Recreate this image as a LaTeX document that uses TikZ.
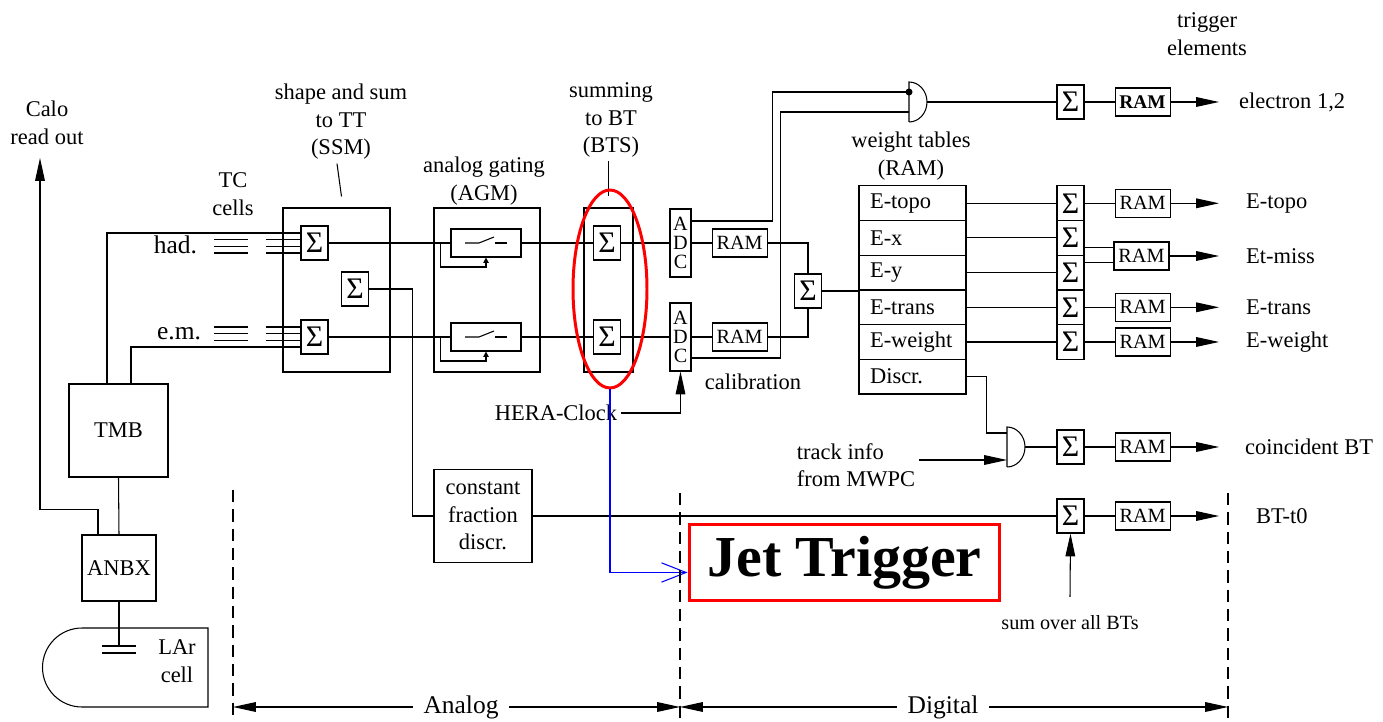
\documentclass[tikz,border=0pt]{standalone}
\usepackage{fontspec}
\setmainfont{Liberation Serif}
\usetikzlibrary{positioning,calc,arrows.meta,shapes.geometric}

\tikzset{
  lbl/.style={font=\fontsize{12.8}{15.6}\selectfont, align=center, inner sep=2pt},
  blk/.style={rectangle, draw, inner sep=0pt, align=center, font=\fontsize{12.8}{15.6}\selectfont},
  sumbox/.style={blk, minimum width=0.54cm, minimum height=0.68cm, font=\fontsize{17}{17}\selectfont},
  rambox/.style={blk, minimum width=1.1cm, minimum height=0.56cm, font=\fontsize{11.5}{12}\selectfont},
  adcbox/.style={blk, minimum width=0.42cm, minimum height=1.36cm, font=\fontsize{11.5}{11}\selectfont},
  swbox/.style={blk, minimum width=1.4cm, minimum height=0.56cm},
  wrow/.style={blk, text width=1.7cm, inner xsep=0.22cm, minimum height=0.6933cm, align=left},
  arr/.style={-{Triangle[length=13pt,width=5.5pt]}},
  fbarr/.style={-{Triangle[length=3pt,width=3pt]}},
  divider/.style={dash pattern=on 7pt off 4pt},
  bigfont/.style={font=\fontsize{14.5}{15}\selectfont}
}

\begin{document}
\begin{tikzpicture}[x=0.02cm, y=-0.02cm, line width=0.6pt]
  \useasboundingbox (0,0) rectangle (1383,722);

  % calorimeter side
  \node[lbl] (calo) at (47,123) {Calo\\read out};
  \node[blk, minimum width=1.98cm, minimum height=1.86cm] (tmb) at (118.5,430.5) {TMB};
  \node[blk, minimum width=1.48cm, minimum height=1.32cm] (anbx) at (119,568) {ANBX};
  \node[lbl] (lar) at (177,661) {LAr\\cell};
  \coordinate (cap) at (119,646);
  \coordinate (calotip) at (40,158);

  \draw (82,628) -- (208,628) -- (208,707) -- (82,707) arc[start angle=270, end angle=90, radius=0.79cm];
  \draw (102,646) -- (136,646) (102,653) -- (136,653);
  \draw (tmb.south) -- (anbx.north);
  \draw (anbx.south) -- (cap);
  \draw[arr] ([xshift=-0.42cm]anbx.north) -- ++(0,-25) -| (calotip);

  % trigger cells
  \node[lbl] (tc) at (233,194) {TC\\cells};
  \node[lbl, bigfont, anchor=east] (had) at (201,245) {had.};
  \node[lbl, bigfont, anchor=east] (em) at (205,334) {e.m.};

  % SSM
  \node[blk, minimum width=2.14cm, minimum height=3.28cm] (ssm) at (336.5,290) {};
  \node[lbl] (ssmlbl) at (341,122) {shape and sum\\to TT\\(SSM)};
  \node[sumbox] (shad) at (314.5,243) {Σ};
  \node[sumbox] (smid) at (355,289) {Σ};
  \node[sumbox] (sem) at (314.5,337) {Σ};
  \draw ([xshift=-0.08cm]ssmlbl.south) -- ([xshift=0.1cm,yshift=0.22cm]ssm.north);

  \draw ([xshift=-0.23cm]tmb.north) |- ([yshift=0.2cm]shad.west);
  \draw ([xshift=0.25cm]tmb.north) |- ([yshift=-0.2cm]sem.west);
  \foreach \dy in {-3.3,3.3,10}
    \draw ($(shad.west)+(-86,\dy)$) -- ++(34,0) ++(18,0) -- ++(34,0);
  \foreach \dy in {-10,-3.3,3.3}
    \draw ($(sem.west)+(-86,\dy)$) -- ++(34,0) ++(18,0) -- ++(34,0);

  % AGM
  \node[blk, minimum width=2.12cm, minimum height=3.28cm] (agm) at (487,290) {};
  \node[lbl] (agmlbl) at (484,181) {analog gating\\(AGM)};
  \node[swbox] (swhad) at (486,243) {};
  \node[swbox] (swem) at (486,337) {};
  \foreach \s in {swhad,swem} {
    \draw ($(\s.center)+(-21,0)$) -- ++(14,0) -- ++(15,-6);
    \draw ($(\s.center)+(9,0)$) -- ++(12,0);
    \draw[fbarr] ([xshift=-0.2cm]\s.west) -- ++(0,24) -| (\s.south);
  }

  % BTS
  \node[blk, minimum width=0.98cm, minimum height=3.28cm] (bts) at (608.5,290) {};
  \node[lbl] (btslbl) at (611,120) {summing\\to BT\\(BTS)};
  \node[sumbox] (bhad) at (607,243) {Σ};
  \node[sumbox] (bem) at (607,337) {Σ};
  \draw (btslbl.south -| bts.north) -- ([yshift=0.22cm]bts.north);

  % ADC and calibration
  \node[adcbox] (adchad) at (680.5,243) {A\\D\\C};
  \node[adcbox] (adcem) at (680.5,337) {A\\D\\C};
  \node[rambox, right=0.4cm of adchad] (ramhad) {RAM};
  \node[rambox, right=0.4cm of adcem] (ramem) {RAM};
  \node[sumbox] (ssum) at (808,291) {Σ};
  \node[lbl] (calib) at (753,382) {calibration};
  \node[lbl] (hera) at (556,413) {HERA-Clock};

  \draw (shad.east) -- (swhad.west);
  \draw (sem.east) -- (swem.west);
  \draw (swhad.east) -- (bhad.west);
  \draw (swem.east) -- (bem.west);
  \draw (bhad.east) -- (adchad.west);
  \draw (bem.east) -- (adcem.west);
  \draw (adchad.east) -- (ramhad.west);
  \draw (adcem.east) -- (ramem.west);
  \draw (ramhad.east) -| (ssum.north);
  \draw (ramem.east) -| (ssum.south);
  \draw[arr] (hera.east) -| (adcem.south);

  % weight tables
  \node[lbl] (wtlbl) at (911,156) {weight tables\\(RAM)};
  \foreach \t/\n [count=\i from 0] in {E-topo/wtopo, E-x/wx, E-y/wy, E-trans/wtrans, E-weight/wweight, Discr./wdiscr}
    \node[wrow] (\n) at (912.5,203.3+34.67*\i) {\t};
  \draw (ssum.east) -- (ssum.east -| wtopo.west);

  \foreach \n [count=\i from 0] in {stopo, sx, sy, strans, sweight}
    \node[sumbox, minimum height=0.6933cm] (\n) at (1070.5,203.3+34.67*\i) {Σ};
  \foreach \a/\b in {wtopo/stopo, wx/sx, wy/sy, wtrans/strans, wweight/sweight}
    \draw (\a) -- (\b);

  \coordinate (xout) at (1219,0);
  \node[rambox, right=0.6cm of stopo] (rtopo) {RAM};
  \node[rambox] (rmiss) at (1141.5,256) {RAM};
  \node[rambox, right=0.6cm of strans] (rtrans) {RAM};
  \node[rambox, right=0.6cm of sweight] (rweight) {RAM};
  \coordinate (mx) at ($(sx.east)+(0,10)$);
  \coordinate (my) at ($(sy.east)+(0,-10)$);
  \draw (stopo) -- (rtopo);
  \draw (mx) -- (mx -| rmiss.west);
  \draw (my) -- (my -| rmiss.west);
  \draw (strans) -- (rtrans);
  \draw (sweight) -- (rweight);
  \foreach \r/\t in {rtopo/E-topo, rmiss/Et-miss, rtrans/E-trans, rweight/E-weight}
    \draw[arr] (\r.east) -- (\r.east -| xout) node[lbl, anchor=west, xshift=0.46cm] (o\r) {\t};

  % electron
  \node[lbl] (trig) at (1207,34) {trigger\\elements};
  \coordinate (and1a) at (909,92);
  \coordinate (and1b) at (909,112);
  \coordinate (and1o) at (927,102);
  \draw (909,122) -- (909,82) arc[start angle=90, end angle=-90, x radius=0.36cm, y radius=0.4cm];
  \draw ([yshift=0.44cm]adchad.east) -- ++(81,0) |- (and1a);
  \draw ([yshift=-0.42cm]adcem.east) -- ++(89,0) |- (and1b);
  \fill (and1a) circle (2pt);
  \node[sumbox] (sel) at (1070.5,102) {Σ};
  \node[rambox, right=0.6cm of sel, font=\fontsize{11}{12}\selectfont\bfseries] (rel) {RAM};
  \draw (and1o) -- (sel);
  \draw (sel) -- (rel);
  \draw[arr] (rel.east) -- (rel.east -| xout) node[lbl, anchor=west, xshift=0.32cm] (oel) {electron 1,2};

  % coincidence with MWPC
  \coordinate (and2a) at (1007,433);
  \coordinate (and2b) at (1007,460);
  \coordinate (and2o) at (1025,447);
  \draw (1007,467) -- (1007,427) arc[start angle=90, end angle=-90, x radius=0.36cm, y radius=0.4cm];
  \draw (wdiscr.east) -- ++(20,0) |- (and2a);
  \node[lbl, align=left] (track) at (856,465) {track info\\from MWPC};
  \draw[arr] (track.east |- and2b) -- (and2b);
  \node[sumbox] (scoin) at (1070.5,447) {Σ};
  \node[rambox, right=0.6cm of scoin] (rcoin) {RAM};
  \draw (and2o) -- (scoin);
  \draw (scoin) -- (rcoin);
  \draw[arr] (rcoin.east) -- (rcoin.east -| xout) node[lbl, anchor=west, xshift=0.44cm] (ocoin) {coincident BT};

  % timing
  \node[blk, minimum width=1.96cm, minimum height=1.86cm] (cfd) at (483,516) {constant\\fraction\\discr.};
  \draw (smid.east) -- ++(43,0) |- (cfd.west);
  \node[sumbox] (st0) at (1070.5,516) {Σ};
  \node[rambox, right=0.6cm of st0] (rt0) {RAM};
  \draw (cfd.east) -- (st0.west);
  \draw (st0) -- (rt0);
  \draw[arr] (rt0.east) -- (rt0.east -| xout) node[lbl, anchor=west, xshift=0.66cm] (ot0) {BT-t0};
  \node[lbl, font=\fontsize{11.5}{12}\selectfont] (sumall) at (1070,623) {sum over all BTs};
  \draw[arr] ([yshift=0.3cm]sumall.north) -- (st0.south);

  % jet trigger
  \node[ellipse, draw=red, line width=1.7pt, minimum width=1.48cm, minimum height=3.96cm] (ell) at (610,289) {};
  \node[draw=red, line width=1.7pt, minimum width=6.22cm, minimum height=1.54cm,
        font=\fontsize{33}{33}\selectfont\bfseries] (jet) at (844.5,562.5) {Jet Trigger};
  \draw[blue, -{Straight Barb[length=14pt,width=11pt]}] (ell.south) |- ([yshift=-0.2cm]jet.west);

  % analog / digital
  \draw[divider] (233,490) -- (233,718);
  \draw[divider] (680,493) -- (680,718);
  \draw[divider] (1228,493) -- (1228,718);
  \coordinate (dA) at (233,707);
  \coordinate (dM) at (680,707);
  \coordinate (dD) at (1228,707);
  \node[lbl, bigfont, inner xsep=0.2cm] (analog) at (461,707) {Analog};
  \node[lbl, bigfont, inner xsep=0.2cm] (digital) at (943,707) {Digital};
  \draw[arr] (analog) -- (dA);
  \draw[arr] (analog) -- (dM);
  \draw[arr] (digital) -- (dM);
  \draw[arr] (digital) -- (dD);
\end{tikzpicture}
\end{document}
